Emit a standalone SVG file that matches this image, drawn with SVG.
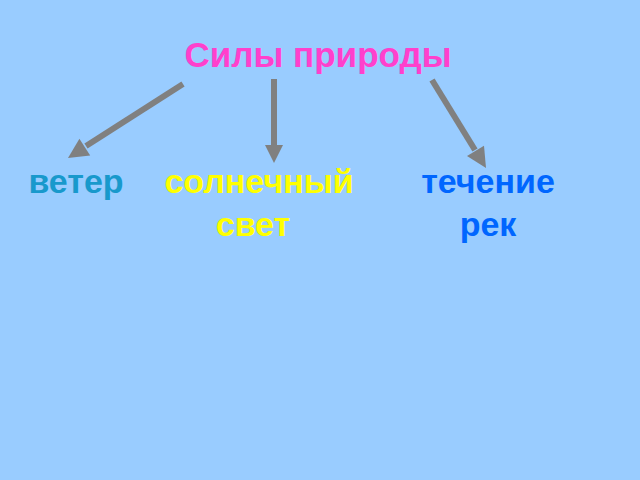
<svg xmlns="http://www.w3.org/2000/svg" width="640" height="480" viewBox="0 0 640 480">
<defs>
<style>
.t{font-family:"Liberation Sans",Arial,sans-serif;font-weight:bold;font-size:34px;text-anchor:middle}
.c{stroke:#808080;stroke-width:6;fill:none}
.h{fill:#808080}
</style>
</defs>
<rect width="640" height="480" fill="#99CCFF"/>
<g id="title"><text class="t" x="318" y="67" fill="#FF40CC" style="font-size:35px">Силы природы</text></g>
<g id="wind"><text class="t" x="76" y="193" fill="#1899CC">ветер</text></g>
<g id="sun"><text class="t" x="259" y="193" fill="#FFFF00">солнечный</text><text class="t" x="253" y="236" fill="#FFFF00">свет</text></g>
<g id="river"><text class="t" x="488" y="193" fill="#0066FF">течение</text><text class="t" x="488" y="236" fill="#0066FF">рек</text></g>
<g id="connectors">
<line class="c" x1="183" y1="84" x2="86" y2="146"/>
<polygon class="h" points="68,158 90.2,155.6 79.4,138.8"/>
<line class="c" x1="274" y1="79" x2="274" y2="147"/>
<polygon class="h" points="274,163 265,145 283,145"/>
<line class="c" x1="432" y1="80" x2="475" y2="150"/>
<polygon class="h" points="486,168 467,156.1 484,145.7"/>
</g>
</svg>
